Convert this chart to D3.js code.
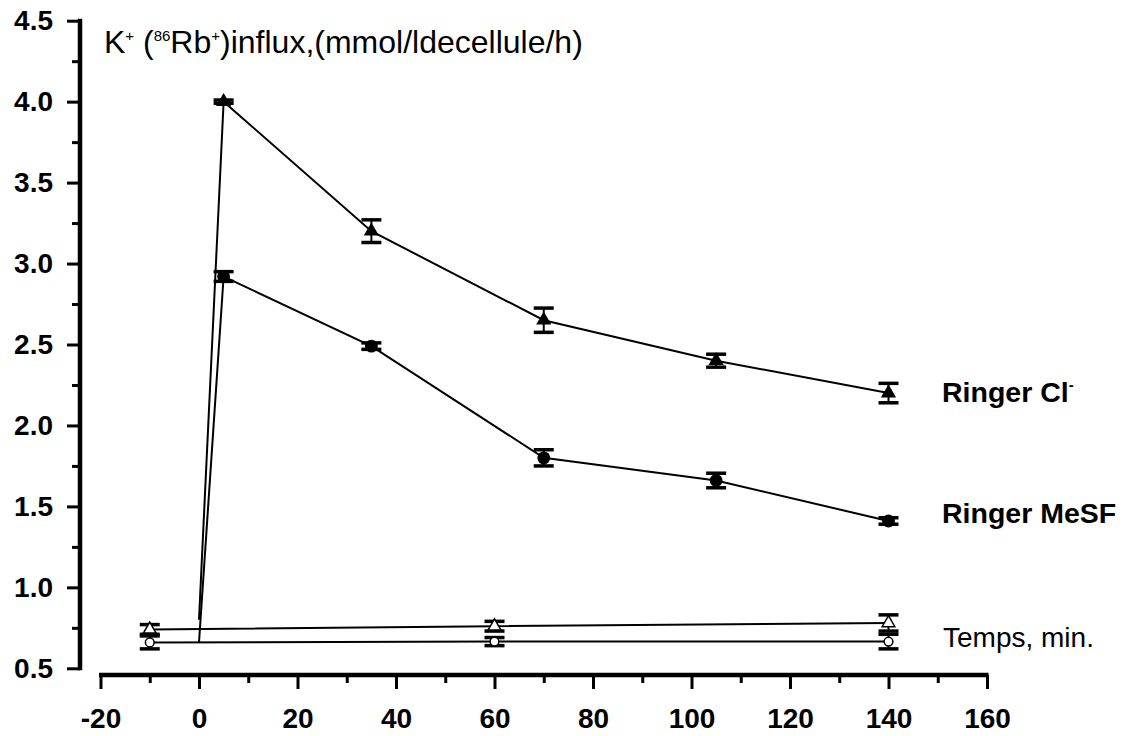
<!DOCTYPE html>
<html>
<head>
<meta charset="utf-8">
<script src="https://cdn.jsdelivr.net/npm/d3@7"></script>
<style>
  body { margin: 0; background: #fff; }
  svg { font-family: Arial, 'Liberation Sans', sans-serif; }
</style>
</head>
<body>
<svg id="chart" width="1130" height="736"></svg>
<script>
// x = time (min), y = K+ influx
const xTicks = [-20, 0, 20, 40, 60, 80, 100, 120, 140, 160];
const yTicks = [0.5, 1.0, 1.5, 2.0, 2.5, 3.0, 3.5, 4.0, 4.5];

// Ringer Cl- (filled triangles) and Ringer MeSF (filled circles)
const times = [5, 35, 70, 105, 140];
const clMean = [4.00, 3.20, 2.65, 2.40, 2.20];
const clErr = [0.01, 0.07, 0.075, 0.04, 0.06];
const clStart = 0.80;      // line starts at t = 0
const mesfMean = [2.92, 2.49, 1.80, 1.66, 1.41];
const mesfErr = [0.03, 0.02, 0.05, 0.045, 0.02];
const mesfStart = 0.66;

// controls (open triangles / open circles)
const ctrlTimes = [-10, 60, 140];
const ctrlClMean = [0.74, 0.76, 0.78];
const ctrlClErr = [0.03, 0.03, 0.05];
const ctrlMesfMean = [0.66, 0.665, 0.665];
const ctrlMesfErr = [0.04, 0.025, 0.045];

function drawChart() {
  const svg = d3.select('svg#chart');

  const x = d3.scaleLinear().domain([-20, 160]).range([100.5, 987]);
  const y = d3.scaleLinear().domain([0.5, 4.5]).range([668.3, 20.7]);

  // y axis
  const yAxisX = 80;
  const yMinor = d3.range(0.75, 4.5, 0.5);
  svg.append('g')
    .attr('transform', `translate(${yAxisX},0)`)
    .call(d3.axisLeft(y).tickValues(yMinor).tickSize(8).tickSizeOuter(0).tickFormat(''))
    .call((g) => g.select('.domain').remove())
    .call((g) => g.selectAll('line').attr('stroke-width', 3));
  const gy = svg.append('g')
    .attr('transform', `translate(${yAxisX},0)`)
    .call(d3.axisLeft(y).tickValues(yTicks).tickSize(13).tickSizeOuter(0).tickPadding(14)
      .tickFormat(d3.format('.1f')));
  gy.select('.domain').attr('stroke-width', 4.5).attr('d', `M0,${y(4.5) - 2}V${y(0.5) + 2}`);
  gy.selectAll('line').attr('stroke-width', 3);
  gy.selectAll('text').attr('font-size', 28).attr('font-weight', 'bold')
    .attr('font-family', 'Arial, Liberation Sans, sans-serif').attr('fill', '#000');

  // x axis
  const xAxisY = 675;
  const xMinor = d3.range(-10, 160, 20);
  svg.append('g')
    .attr('transform', `translate(0,${xAxisY})`)
    .call(d3.axisBottom(x).tickValues(xMinor).tickSize(8).tickSizeOuter(0).tickFormat(''))
    .call((g) => g.select('.domain').remove())
    .call((g) => g.selectAll('line').attr('stroke-width', 3));
  const gx = svg.append('g')
    .attr('transform', `translate(0,${xAxisY})`)
    .call(d3.axisBottom(x).tickValues(xTicks).tickSize(14).tickSizeOuter(0).tickPadding(19)
      .tickFormat((d) => String(d)));
  gx.select('.domain').attr('stroke-width', 4.5).attr('d', `M${x(-20) - 1.5},0H${x(160) + 1.5}`);
  gx.selectAll('line').attr('stroke-width', 3);
  gx.selectAll('text').attr('font-size', 28).attr('font-weight', 'bold')
    .attr('font-family', 'Arial, Liberation Sans, sans-serif').attr('fill', '#000');

  const line = d3.line().x((d) => x(d[0])).y((d) => y(d[1]));

  const clPts = [[0, clStart]].concat(times.map((t, i) => [t, clMean[i]]));
  const mesfPts = [[0, mesfStart]].concat(times.map((t, i) => [t, mesfMean[i]]));
  const ctrlClPts = ctrlTimes.map((t, i) => [t, ctrlClMean[i]]);
  const ctrlMesfPts = ctrlTimes.map((t, i) => [t, ctrlMesfMean[i]]);

  [clPts, mesfPts, ctrlClPts, ctrlMesfPts].forEach((pts) => {
    svg.append('path')
      .attr('d', line(pts))
      .attr('fill', 'none')
      .attr('stroke', '#000')
      .attr('stroke-width', 2);
  });

  function errorBars(ts, means, errs) {
    const g = svg.append('g').attr('stroke', '#000');
    ts.forEach((t, i) => {
      const cx = x(t);
      const top = y(means[i] + errs[i]);
      const bot = y(means[i] - errs[i]);
      g.append('line').attr('x1', cx).attr('x2', cx).attr('y1', top).attr('y2', bot)
        .attr('stroke-width', 2);
      [top, bot].forEach((yy) => {
        g.append('line').attr('x1', cx - 10).attr('x2', cx + 10).attr('y1', yy).attr('y2', yy)
          .attr('stroke-width', 3.5);
      });
    });
  }

  errorBars(times, clMean, clErr);
  errorBars(times, mesfMean, mesfErr);
  errorBars(ctrlTimes, ctrlClMean, ctrlClErr);
  errorBars(ctrlTimes, ctrlMesfMean, ctrlMesfErr);

  const tri = d3.symbol().type(d3.symbolTriangle);
  const circ = d3.symbol().type(d3.symbolCircle);

  svg.selectAll('path.cl').data(times).enter()
    .append('path')
    .attr('class', 'cl')
    .attr('transform', (d, i) => `translate(${x(d)},${y(clMean[i])})`)
    .attr('d', tri.size(100)())
    .attr('fill', '#000');

  svg.selectAll('path.mesf').data(times).enter()
    .append('path')
    .attr('class', 'mesf')
    .attr('transform', (d, i) => `translate(${x(d)},${y(mesfMean[i])})`)
    .attr('d', circ.size(130)())
    .attr('fill', '#000');

  svg.selectAll('path.ctrlcl').data(ctrlTimes).enter()
    .append('path')
    .attr('class', 'ctrlcl')
    .attr('transform', (d, i) => `translate(${x(d)},${y(ctrlClMean[i])})`)
    .attr('d', tri.size(70)())
    .attr('fill', '#fff')
    .attr('stroke', '#000')
    .attr('stroke-width', 1.5);

  svg.selectAll('path.ctrlmesf').data(ctrlTimes).enter()
    .append('path')
    .attr('class', 'ctrlmesf')
    .attr('transform', (d, i) => `translate(${x(d)},${y(ctrlMesfMean[i])})`)
    .attr('d', circ.size(60)())
    .attr('fill', '#fff')
    .attr('stroke', '#000')
    .attr('stroke-width', 1.5);

  // y title
  const title = svg.append('text')
    .attr('x', 104)
    .attr('y', 53)
    .attr('font-size', 32)
    .attr('fill', '#000');
  title.append('tspan').text('K');
  title.append('tspan').attr('font-size', 15).attr('dy', -12).text('+');
  title.append('tspan').attr('dy', 12).text(' (');
  title.append('tspan').attr('font-size', 15).attr('dy', -12).text('86');
  title.append('tspan').attr('dy', 12).text('Rb');
  title.append('tspan').attr('font-size', 15).attr('dy', -12).text('+');
  title.append('tspan').attr('dy', 12).text(')influx,(mmol/ldecellule/h)');

  // series labels
  const cl = svg.append('text')
    .attr('x', 942).attr('y', 402)
    .attr('font-size', 28.5).attr('font-weight', 'bold').attr('fill', '#000');
  cl.append('tspan').text('Ringer Cl');
  cl.append('tspan').attr('font-size', 15).attr('dy', -12).text('-');

  svg.append('text')
    .attr('x', 942).attr('y', 523)
    .attr('font-size', 28.5).attr('font-weight', 'bold').attr('fill', '#000')
    .text('Ringer MeSF');

  svg.append('text')
    .attr('x', 943).attr('y', 647)
    .attr('font-size', 28).attr('fill', '#000')
    .text('Temps, min.');
}

window.addEventListener('load', drawChart);
</script>
</body>
</html>
